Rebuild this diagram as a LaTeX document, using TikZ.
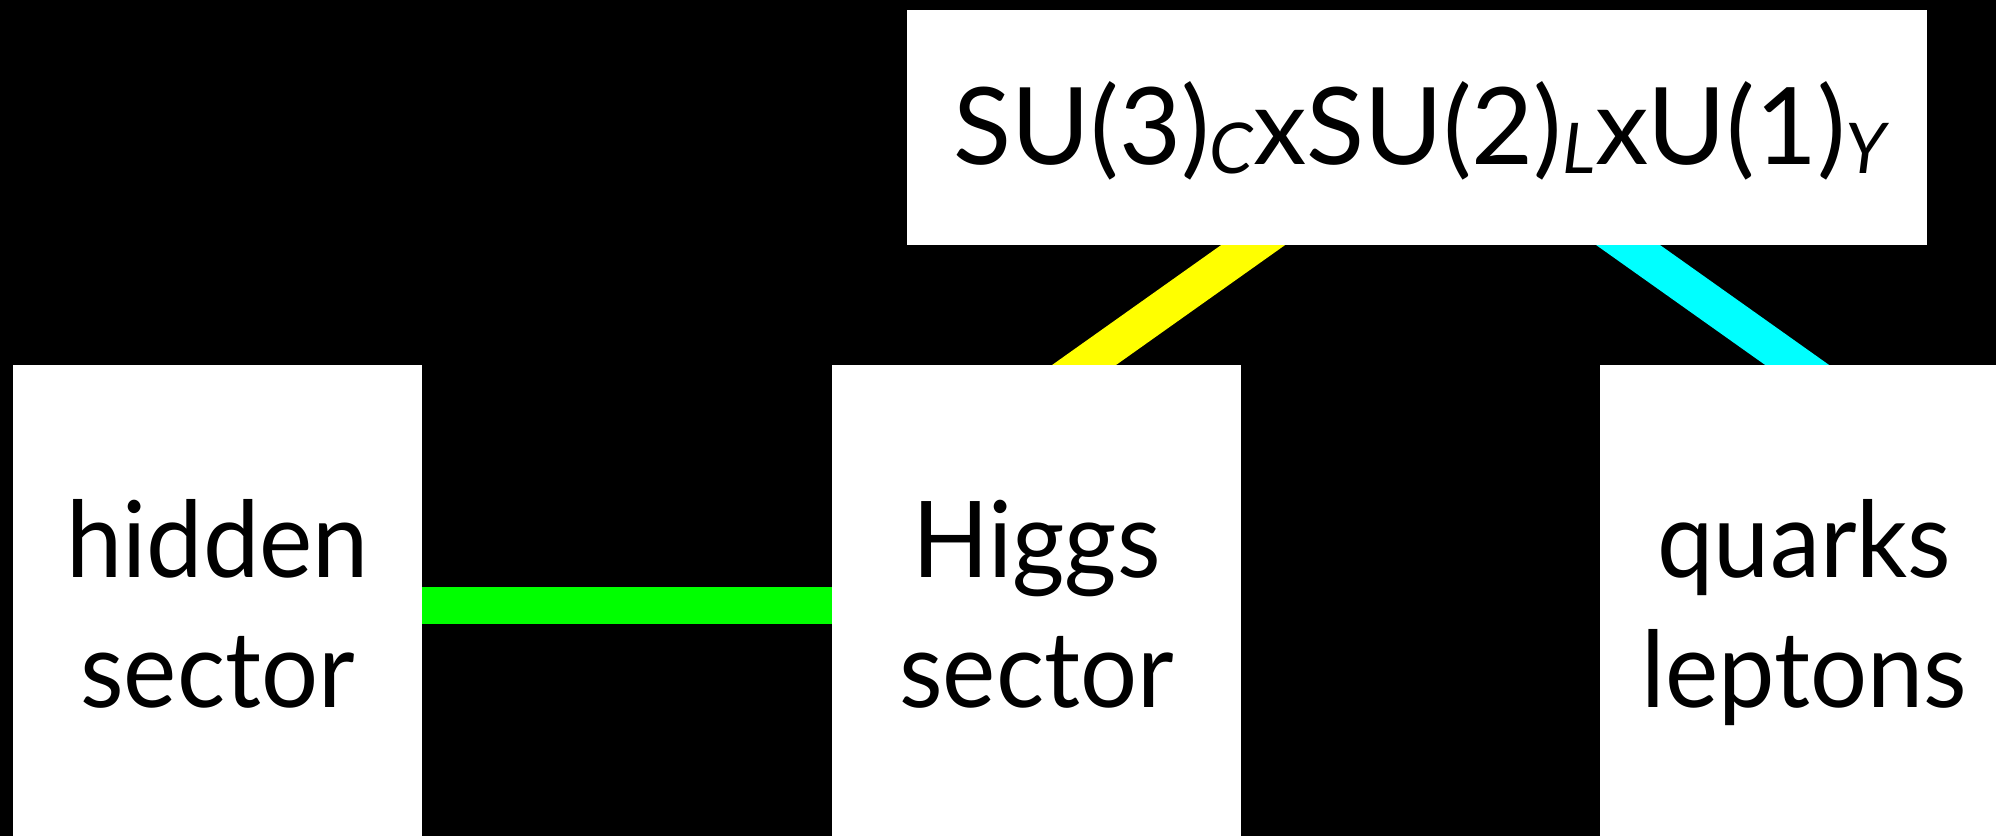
\documentclass[tikz,border=0pt]{standalone}
\usepackage{fontspec}
\setmainfont{Lato}
\usetikzlibrary{calc,backgrounds}

\definecolor{linkyellow}{RGB}{255,255,0}
\definecolor{linkcyan}{RGB}{0,255,255}
\definecolor{linkgreen}{RGB}{0,255,0}

% lowered italic subscript used in the gauge group label
\newcommand\groupsub[1]{\raisebox{-4.5pt}{\fontsize{35}{35}\selectfont\itshape #1}}

\begin{document}
\begin{tikzpicture}[x=0.5pt,y=-0.5pt,
  sectorbox/.style={fill=white, draw=none, inner sep=0pt,
                    minimum width=204.5pt, minimum height=240pt},
  groupbox/.style={fill=white, draw=none, inner sep=0pt,
                   minimum width=510pt, minimum height=117.5pt},
  boxtext/.style={anchor=base, align=center, text=black, inner sep=0pt,
                  font=\fontsize{53}{65}\selectfont},
  grouptext/.style={anchor=base, text=black, inner sep=0pt,
                    font=\fontsize{53.5}{60}\selectfont},
  link/.style={line width=18.5pt}]

  \useasboundingbox (0,0) rectangle (1996,836);

  % boxes
  \node[groupbox]  (group)  at (1417,127.5) {};
  \node[sectorbox] (hidden) at (217.5,605) {};
  \node[sectorbox] (higgs)  at (1036.5,605) {};
  \node[sectorbox] (quarks) at (1804.5,605) {};

  % labels (base anchor sits on the baseline of the last line)
  \node[grouptext] (grouplabel) at (1420,164)
    {SU(3)\groupsub{C}xSU(2)\groupsub{L}xU(1)\groupsub{Y}};
  \node[boxtext] (hiddenlabel) at (217.5,707) {\scalebox{0.95}[1]{hidden}\\\scalebox{0.95}[1]{sector}};
  \node[boxtext] (higgslabel)  at (1036.5,707) {\scalebox{0.95}[1]{Higgs}\\\scalebox{0.95}[1]{sector}};
  \node[boxtext] (quarkslabel) at (1804.5,707) {\scalebox{0.95}[1]{quarks}\\\scalebox{0.95}[1]{leptons}};

  % connector end points on the box edges
  \coordinate (gy) at ($(group.south west)+(346,0)$);
  \coordinate (hy) at ($(higgs.north west)+(253,0)$);
  \coordinate (gc) at ($(group.south west)+(722,0)$);
  \coordinate (qc) at ($(quarks.north west)+(197,0)$);

  \begin{scope}[on background layer]
    % black page
    \fill[black] (0,0) rectangle (1996,836);
    \draw[link, linkyellow] ($(gy)!-0.25!(hy)$) -- ($(hy)!-0.25!(gy)$);
    \draw[link, linkcyan]   ($(gc)!-0.25!(qc)$) -- ($(qc)!-0.25!(gc)$);
    \draw[link, linkgreen]  (hidden.center) -- (higgs.center);
  \end{scope}
\end{tikzpicture}
\end{document}
